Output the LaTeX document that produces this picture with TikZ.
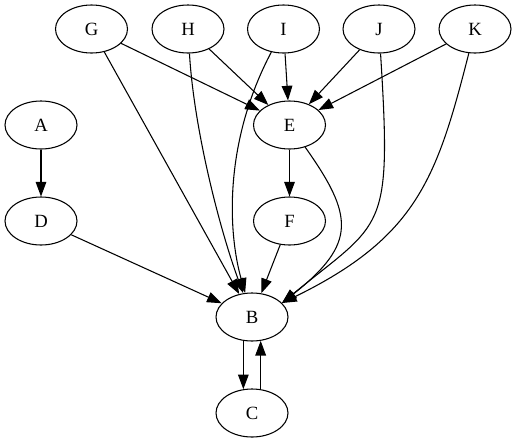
\documentclass[tikz,border=0pt]{standalone}
\usepackage{fontspec}
\setmainfont{Liberation Serif}
\usetikzlibrary{arrows.meta,shapes.geometric}
\begin{document}
\begin{tikzpicture}[x=0.75pt,y=-0.75pt,
  vnode/.style={draw,ellipse,line width=0.8pt,minimum width=54pt,minimum height=36pt,inner sep=0pt,font=\fontsize{14pt}{16pt}\selectfont},
  edge/.style={line width=0.8pt,-{Triangle[length=11pt,width=8pt]}}]
\useasboundingbox (0,0) rectangle (517,443);
\node[vnode] (G) at (91.5,29) {G};
\node[vnode] (H) at (188,29) {H};
\node[vnode] (I) at (283.5,29) {I};
\node[vnode] (J) at (379,29) {J};
\node[vnode] (K) at (475,29) {K};
\node[vnode] (A) at (41,125) {A};
\node[vnode] (E) at (289.5,125) {E};
\node[vnode] (D) at (41,221) {D};
\node[vnode] (F) at (289.5,221) {F};
\node[vnode] (B) at (252,317) {B};
\node[vnode] (C) at (252,413) {C};
\draw[edge] (A) -- (D);
\draw[edge] (D) -- (B);
\draw[edge] (G) -- (E);
\draw[edge] (G) -- (B);
\draw[edge] (H) -- (E);
\draw[edge] (H) .. controls (194,130) and (220,230) .. (B);
\draw[edge] (I) -- (E);
\draw[edge] (I) .. controls (222.8,144) and (228.4,234) .. (B);
\draw[edge] (J) -- (E);
\draw[edge] (J) .. controls (392,235) and (383,220) .. (B.25);
\draw[edge] (K) -- (E);
\draw[edge] (K) .. controls (437,178) and (417,237) .. (B.25);
\draw[edge] (E) -- (F);
\draw[edge] (E) .. controls (353.6,215.6) and (357.3,243.4) .. (B.25);
\draw[edge] (F) -- (B);
\draw[edge] (B.250) -- (C.110);
\draw[edge] (C.70) -- (B.290);
\end{tikzpicture}
\end{document}
